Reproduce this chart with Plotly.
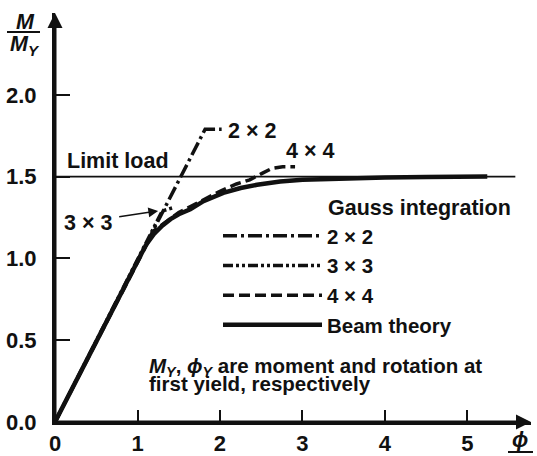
import plotly.graph_objects as go

# ---- data ----
beam_x = [0, 1.1, 1.2, 1.3, 1.4, 1.5, 1.64, 1.8, 2.04, 2.25, 2.45, 2.73, 3.0, 3.5, 4.0, 4.5, 5.24]
beam_y = [0, 1.08, 1.15, 1.20, 1.24, 1.27, 1.30, 1.35, 1.40, 1.43, 1.45, 1.47, 1.48, 1.49, 1.495, 1.497, 1.50]

g2_x = [0, 1.82, 2.02]
g2_y = [0, 1.79, 1.79]

g3_x = [0, 1.22, 1.30, 1.43]
g3_y = [0, 1.20, 1.29, 1.31]

g4_x = [0, 1.2, 1.5, 1.8, 2.0, 2.2, 2.36, 2.51, 2.63, 2.76, 2.91]
g4_y = [0, 1.17, 1.28, 1.36, 1.41, 1.455, 1.48, 1.52, 1.55, 1.56, 1.56]

limit_x = [0, 5.58]
limit_y = [1.5, 1.5]

x_ticks = [0, 1, 2, 3, 4, 5]
x_labels = ["0", "1", "2", "3", "4", "5"]
y_ticks = [0, 0.5, 1.0, 1.5, 2.0]
y_labels = ["0.0", "0.5", "1.0", "1.5", "2.0"]

# ---- layout geometry ----
W, H = 537, 456
ML, MR, MT, MB = 55, 6, 13, 34
XMAX, YMAX = 5.77, 2.5
PW, PH = W - ML - MR, H - MT - MB


def px(xp):
    return (xp - ML) / PW


def py(yp):
    return (H - MB - yp) / PH


FONT = "Liberation Sans, Arial, sans-serif"
BLK = "#111111"
fT = dict(family=FONT, size=21.5, color=BLK, weight="bold")
fN = dict(family=FONT, size=20.5, color=BLK, weight="bold")
fL = dict(family=FONT, size=20.5, color=BLK, weight="bold")
fK = dict(family=FONT, size=22, color=BLK, weight="bold")

fig = go.Figure()
fig.add_trace(go.Scatter(x=limit_x, y=limit_y, mode="lines", line=dict(color=BLK, width=1.6),
                         showlegend=False, hoverinfo="skip"))
fig.add_trace(go.Scatter(x=g2_x, y=g2_y, mode="lines", name="2 × 2",
                         line=dict(color=BLK, width=3.5, dash="14px,4px,3px,4px")))
fig.add_trace(go.Scatter(x=g3_x, y=g3_y, mode="lines", name="3 × 3",
                         line=dict(color=BLK, width=3.5, dash="10px,3px,3px,3px,3px,3px")))
fig.add_trace(go.Scatter(x=g4_x, y=g4_y, mode="lines", name="4 × 4",
                         line=dict(color=BLK, width=3.5, dash="11px,5px")))
fig.add_trace(go.Scatter(x=beam_x, y=beam_y, mode="lines", name="Beam theory",
                         line=dict(color=BLK, width=4.5)))

ann = []
# axis arrows
ann.append(dict(x=XMAX, y=0, ax=0, ay=0, xref="x", yref="y", axref="x", ayref="y", text="",
                showarrow=True, arrowhead=2, arrowsize=1.0, arrowwidth=3, arrowcolor=BLK))
ann.append(dict(x=0, y=YMAX, ax=0, ay=0, xref="x", yref="y", axref="x", ayref="y", text="",
                showarrow=True, arrowhead=2, arrowsize=1.0, arrowwidth=3, arrowcolor=BLK))
# curve labels
ann.append(dict(x=px(118), y=py(161), xref="paper", yref="paper", text="Limit load", showarrow=False,
                font=fT, xanchor="center", yanchor="middle"))
ann.append(dict(x=px(88), y=py(223), xref="paper", yref="paper", text="3 × 3", showarrow=False,
                font=fT, xanchor="center", yanchor="middle"))
ann.append(dict(x=1.25, y=1.29, ax=0.76, ay=1.253, axref="x", ayref="y", text="", showarrow=True,
                arrowhead=2, arrowsize=1.3, arrowwidth=1.5, arrowcolor=BLK))
ann.append(dict(x=px(252), y=py(131), xref="paper", yref="paper", text="2 × 2", showarrow=False,
                font=fT, xanchor="center", yanchor="middle"))
ann.append(dict(x=px(310), y=py(151), xref="paper", yref="paper", text="4 × 4", showarrow=False,
                font=fT, xanchor="center", yanchor="middle"))
ann.append(dict(x=px(326), y=py(208), xref="paper", yref="paper", text="Gauss integration", showarrow=False,
                font=fT, xanchor="left", yanchor="middle"))
ann.append(dict(x=px(147), y=py(367), xref="paper", yref="paper",
                text="<i>M<sub>Y</sub></i>, <i>ϕ<sub>Y</sub></i> are moment and rotation at",
                showarrow=False, font=fN, xanchor="left", yanchor="middle"))
ann.append(dict(x=px(147), y=py(383), xref="paper", yref="paper", text="first yield, respectively",
                showarrow=False, font=fN, xanchor="left", yanchor="middle"))
# axis titles
ann.append(dict(x=px(25), y=py(22), xref="paper", yref="paper", text="<i>M</i>", showarrow=False,
                font=fT, xanchor="center", yanchor="middle"))
ann.append(dict(x=px(25), y=py(46), xref="paper", yref="paper", text="<i>M<sub>Y</sub></i>", showarrow=False,
                font=fT, xanchor="center", yanchor="middle"))
ann.append(dict(x=px(520), y=py(440), xref="paper", yref="paper", text="<i>ϕ</i>", showarrow=False,
                font=fT, xanchor="center", yanchor="middle"))

shapes = [
    dict(type="line", xref="paper", yref="paper", x0=px(7), x1=px(40), y0=py(32), y1=py(32),
         line=dict(color=BLK, width=2)),
    dict(type="line", xref="paper", yref="paper", x0=px(508), x1=px(533), y0=py(452), y1=py(452),
         line=dict(color=BLK, width=2)),
]

fig.update_layout(
    width=W, height=H, autosize=False,
    margin=dict(l=ML, r=MR, t=MT, b=MB, pad=0, autoexpand=False),
    paper_bgcolor="white", plot_bgcolor="white",
    font=fT,
    annotations=ann, shapes=shapes,
    legend=dict(x=px(218), y=py(216), xanchor="left", yanchor="top", bgcolor="rgba(0,0,0,0)",
                font=fL, itemwidth=99, tracegroupgap=0, traceorder="normal"),
    xaxis=dict(range=[0, XMAX], showgrid=False, zeroline=False, showline=True, linecolor=BLK, linewidth=3,
               ticks="inside", ticklen=12, tickwidth=1.5, tickcolor=BLK, automargin=False,
               tickvals=x_ticks, ticktext=x_labels, tickfont=fK, ticklabelstandoff=0),
    yaxis=dict(range=[0, YMAX], showgrid=False, zeroline=False, showline=True, linecolor=BLK, linewidth=3,
               ticks="inside", ticklen=15, tickwidth=2, tickcolor=BLK, automargin=False,
               tickvals=y_ticks, ticktext=y_labels, tickfont=fK, ticklabelstandoff=11),
)

fig.write_html("out.html", config={"displayModeBar": False},
               post_script="document.body.style.margin='0px';")
